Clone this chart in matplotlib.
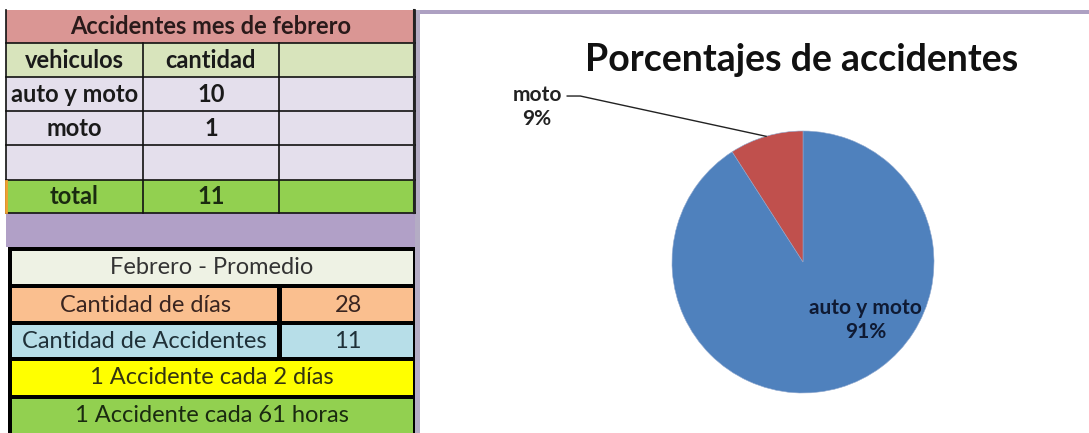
import numpy as np
import matplotlib.pyplot as plt
from matplotlib.patches import Rectangle

plt.rcParams['font.family'] = ['Lato', 'DejaVu Sans']

# tabla 1: accidentes mes de febrero
titulo_tabla = 'Accidentes mes de febrero'
encabezados = ['vehiculos', 'cantidad', '']
vehiculos = ['auto y moto', 'moto', '']
cantidad = [10, 1, None]
total = sum(c for c in cantidad if c is not None)

# tabla 2: promedio
titulo_promedio = 'Febrero - Promedio'
dias = 28
accidentes = total
cada_dias = 2
cada_horas = 61

# grafico
titulo_grafico = 'Porcentajes de accidentes'
etiquetas = vehiculos[:2]
valores = cantidad[:2]
colores = ['#4F81BD', '#C0504D']

W, H = 1089, 433
fig = plt.figure(figsize=(W / 100, H / 100), dpi=100)
fig.patch.set_facecolor('white')
bg = fig.add_axes([0, 0, 1, 1])
bg.set_xlim(0, W)
bg.set_ylim(H, 0)
bg.axis('off')


def celda(x0, y0, x1, y1, color):
    bg.add_patch(Rectangle((x0, y0), x1 - x0, y1 - y0, facecolor=color,
                           edgecolor='none'))


def texto(x, y, s, size=17, weight='normal', color='#1a1a1a'):
    bg.text(x, y, s, ha='center', va='center', fontsize=size,
            fontweight=weight, color=color)


# ---- tabla 1 ----
filas_y = [10, 43, 77, 111, 145, 180, 213]
cols_x = [6, 143, 279, 415]
fondos = ['#DA9694', '#D8E4BC', '#E4DFEC', '#E4DFEC', '#E4DFEC', '#92D050']
for i, f in enumerate(fondos):
    celda(cols_x[0], filas_y[i], cols_x[-1], filas_y[i + 1], f)
# banda morada
celda(6, 213, 416, 247, '#B1A0C7')
# lineas
for y in filas_y[1:]:
    bg.plot([cols_x[0], cols_x[-1]], [y, y], color='#111111', lw=1.2)
for x in cols_x:
    y_ini = filas_y[1] if x in cols_x[1:3] else filas_y[0]
    bg.plot([x, x], [y_ini, filas_y[-1]], color='#111111', lw=1.2)
bg.plot([5.5, 5.5], [181, 212], color='#F0A030', lw=2)

cx = [(cols_x[j] + cols_x[j + 1]) / 2 for j in range(3)]
texto((cols_x[0] + cols_x[-1]) / 2, 27, titulo_tabla, 17, 'bold', '#2a1a1a')
for j, e in enumerate(encabezados):
    texto(cx[j], 60, e, 17, 'bold')
for i, (v, c) in enumerate(zip(vehiculos, cantidad)):
    yc = (filas_y[i + 2] + filas_y[i + 3]) / 2
    texto(cx[0], yc, v, 17, 'bold')
    if c is not None:
        texto(cx[1], yc, str(c), 17, 'bold')
texto(cx[0], 197, 'total', 17, 'bold', '#1a2a10')
texto(cx[1], 197, str(total), 17, 'bold', '#1a2a10')

# ---- tabla 2 ----
celda(8, 247, 417, 433, '#000000')
celda(12, 251, 413, 284, '#EEF2E4')
celda(12, 288, 277, 321, '#FABF8F')
celda(282, 288, 413, 321, '#FABF8F')
celda(12, 325, 277, 357, '#B7DEE8')
celda(282, 325, 413, 357, '#B7DEE8')
celda(12, 361, 413, 395, '#FFFF00')
celda(12, 399, 413, 440, '#92D050')
texto(212, 268, titulo_promedio, color='#333333')
texto(145, 305, 'Cantidad de días', color='#3a2520')
texto(348, 305, str(dias), color='#3a2520')
texto(144, 341, 'Cantidad de Accidentes', color='#1f3038')
texto(348, 341, str(accidentes), color='#1f3038')
texto(212, 378, '1 Accidente cada %d días' % cada_dias, color='#333311')
texto(212, 416, '1 Accidente cada %d horas' % cada_horas, color='#1a2a10')

# ---- area del grafico ----
celda(420, 14, W, H, 'white')
celda(415, 10, W, 14, '#ADA0C2')
celda(415, 10, 420, H, '#B4ACC4')
bg.plot([413.5, 413.5], [10, 213], color='#222222', lw=1.5)
bg.text(802, 60, titulo_grafico, ha='center', va='center', fontsize=27,
        fontweight='bold', color='#111111')

# pie: centro (803, 262), radio 131 px
r = 131
ax = fig.add_axes([(803 - r) / W, (H - 262 - r) / H, 2 * r / W, 2 * r / H])
wedges, _ = ax.pie(valores, colors=colores, startangle=90, counterclock=False,
                   wedgeprops=dict(edgecolor='#8fa8cf', linewidth=0.4))
ax.set_xlim(-1, 1)
ax.set_ylim(-1, 1)
ax.set_aspect('equal')
ax.axis('off')

pct = [round(100 * v / sum(valores)) for v in valores]
ax.text(0.48, -0.443, '%s\n%d%%' % (etiquetas[0], pct[0]), ha='center',
        va='center', fontsize=15, fontweight='bold', color='#0f1a33',
        linespacing=1.25)

w = wedges[1]
ang = np.deg2rad((w.theta1 + w.theta2) / 2)
px, py = np.cos(ang), np.sin(ang)
ax.plot([-1.80, -1.70, px], [1.267, 1.267, py], color='#222222', lw=1,
        clip_on=False)
ax.text(-2.03, 1.187, '%s\n%d%%' % (etiquetas[1], pct[1]), ha='center',
        va='center', fontsize=15, fontweight='bold', color='#222222',
        linespacing=1.25)

fig.savefig('out.png', dpi=100)
